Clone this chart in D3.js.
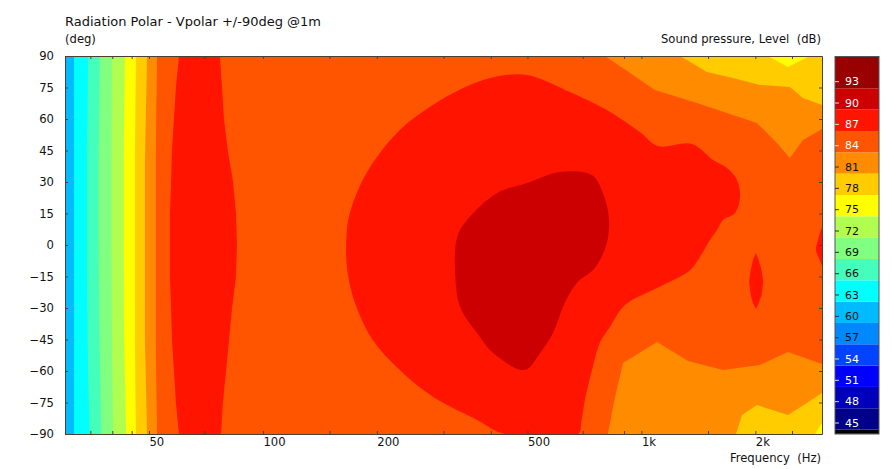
<!DOCTYPE html>
<html><head><meta charset="utf-8">
<script src="https://cdn.jsdelivr.net/npm/d3@7/dist/d3.min.js"></script>
<style>
html,body{margin:0;padding:0;background:#fff}
svg{display:block}
text{font-family:"DejaVu Sans",Verdana,sans-serif;font-size:11.6px;fill:#111;white-space:pre}
</style></head><body>
<script>
// Tick labels and levels
const angleTicks = [-90,-75,-60,-45,-30,-15,0,15,30,45,60,75,90];
const freqLabelTicks = [50,100,200,500,1000,2000];
const freqMinorTicks = [35,40,45,70,150,300,400,700,900,1500,2500];
const colorbarTicks = [45,48,51,54,57,60,63,66,69,72,75,78,81,84,87,90,93];
const colorbarEdges = [43.4,44,47,50,53,56,59,62,65,68,71,74,77,80,83,86,89,92,96.5];
const colorbarColors = ["#000000","#000088","#0000bb","#0000ff","#0044ff","#0088ff","#00bbff","#00ffff","#44ffbb","#80ff80","#b0ff50","#ffff00","#ffcc00","#ff8c00","#ff5500","#ff1400","#cc0000","#990000"];
const lightLabels = [45,48,51,54,84,87,90,93];

// Iso-level contours: [frequency Hz, angle deg]
const contour59 = [[30,90],[3000,90],[3000,-90],[30,-90]];
const contour62 = [[31.7,90],[3000,90],[3000,-90],[31.7,-90]];
const contour65 = [[34.5,90],[34.3,40],[34.3,0],[34.4,-45],[34.8,-90],[3000,-90],[3000,90]];
const contour68 = [[37.1,90],[36.8,40],[36.8,0],[37.0,-45],[37.4,-90],[3000,-90],[3000,90]];
const contour71 = [[39.9,90],[39.8,40],[39.8,0],[39.9,-45],[40.2,-90],[3000,-90],[3000,90]];
const contour74 = [[43.2,90],[42.9,40],[42.9,0],[43.0,-45],[43.5,-90],[3000,-90],[3000,90]];
const contour77 = [[46.2,90],[45.9,40],[45.9,0],[45.9,-45],[46.2,-90],[2875,-90],[3000,-84.8],[3000,90],[2788,90],[2439,84.8],[2159,90]];
const contour80 = [[49.4,90],[48.8,40],[48.8,0],[48.8,-45],[49.4,-90],[1778,-90],[1844,-81],[2019,-76.2],[2439,-81],[2736,-75.2],[3000,-70.5],[3000,66.7],[2672,70],[2468,75.2],[2057,76.2],[1746,79.5],[1490,82.4],[1265,90]];
const contour83 = [[52.5,90],[52.1,40],[52.1,0],[52.1,-45],[52.5,-90],[815,-90],[852,-72.4],[894,-56.2],[1100,-46.2],[1328,-55.2],[1643,-59.5],[2057,-57.1],[2439,-51],[3000,-56.7],[3000,55.2],[2672,50],[2468,41.4],[2281,48.6],[2019,58.1],[1746,61.9],[1403,67.6],[1086,73.8],[933,81.9],[801,90]];
const contour86Low = [[60,90],[58.9,75],[58.2,60],[57.5,45],[57.2,30],[56.8,15],[56.8,0],[56.8,-15],[57.2,-30],[57.5,-45],[58.2,-60],[58.9,-75],[60,-90],[77.5,-90],[78.4,-75],[79.9,-60],[81.4,-45],[82.9,-30],[84.9,-15],[85.4,0],[84.9,15],[83.4,30],[80.8,45],[78.9,60],[78,75],[77,90]];
const contour86Main = [[498,81],[647,72.9],[810,64.3],[991,53.8],[1106,47.1],[1360,48.1],[1546,40.5],[1683,36.7],[1789,31],[1822,22.9],[1767,15.2],[1643,11.9],[1584,7.1],[1518,2.4],[1411,-7.1],[1336,-12.4],[1100,-20.5],[905,-28.6],[826,-39],[778,-46.2],[744,-58.1],[709,-73.8],[695,-83.3],[680,-90],[436,-90],[368,-83.3],[282,-72.4],[230,-59.5],[195,-45.2],[175,-27.6],[167,-11.9],[166,1],[168,11.9],[177,24.8],[195,39],[230,54.8],[276,65.7],[338,74.8],[406,79.9]];
const contour86Lens = [[2007,-3.8],[2040,-7.1],[2078,-11.9],[2097,-17.6],[2078,-23.8],[2040,-27.6],[2007,-30.5],[1971,-27.6],[1944,-23.8],[1925,-17.6],[1944,-11.9],[1971,-7.1]];
const contour86Edge = [[3000,8.1],[2927,2.4],[2892,-2.4],[2944,-6.2],[3000,-9.5]];
const contour89 = [[609,34.8],[740,33.3],[791,24.8],[820,13.3],[810,1],[753,-11],[675,-18.1],[627,-27.6],[584,-41.9],[540,-51.4],[492,-59.5],[406,-51.4],[368,-41.9],[332,-29.5],[322,-13.3],[326,3.8],[346,11.9],[416,24.8],[499,29.5]];

const bandLevels = [59,62,65,68,71,74,77,80,83,86,86,86,86,89];
const bandContours = [contour59,contour62,contour65,contour68,contour71,contour74,contour77,contour80,contour83,contour86Low,contour86Main,contour86Lens,contour86Edge,contour89];
const roundedContours = [contour86Main,contour86Edge,contour89];

const W=892,H=469, L=65,R=822,T=56,B=434;
const x=d3.scaleLog().domain([30,3000]).range([L,R]);
const y=d3.scaleLinear().domain([-90,90]).range([B,T]);
const cb=d3.scaleLinear().domain([45,93]).range([422.5,81.2]);
const color=d3.scaleThreshold().domain(colorbarEdges.slice(1,-1)).range(colorbarColors);

const svg=d3.select("body").append("svg").attr("width",W).attr("height",H);
const clip=svg.append("defs").append("clipPath").attr("id","plot");
clip.append("rect").attr("x",L).attr("y",T).attr("width",R-L).attr("height",B-T);

const line=d3.line().x(d=>x(d[0])).y(d=>y(d[1])).curve(d3.curveLinearClosed);
const round=d3.line().x(d=>x(d[0])).y(d=>y(d[1])).curve(d3.curveCatmullRomClosed.alpha(0.5));
svg.append("g").attr("clip-path","url(#plot)").selectAll("path")
  .data(bandContours.map((c,i)=>({c,level:bandLevels[i]})))
  .join("path").attr("d",d=>(roundedContours.includes(d.c)?round:line)(d.c)).attr("fill",d=>color(d.level+0.5));

// frame + axes
const ink="#4a4030";
const fmt=d=>d>=1000?(d/1000)+"k":d;
const style=g=>{g.selectAll(".domain").attr("stroke",ink);g.selectAll(".tick line").attr("stroke",ink);};
const allFreq=[...freqLabelTicks,...freqMinorTicks];
svg.append("g").attr("transform",`translate(${L},0)`)
  .call(d3.axisLeft(y).tickValues(angleTicks).tickSize(-3).tickSizeOuter(0).tickPadding(11)).call(style)
  .call(g=>g.selectAll("text").style("font-size","11.6px"));
svg.append("g").attr("transform",`translate(${R},0)`)
  .call(d3.axisRight(y).tickValues(angleTicks).tickSize(-3).tickSizeOuter(0).tickFormat("")).call(style);
svg.append("g").attr("transform",`translate(0,${T})`)
  .call(d3.axisTop(x).tickValues(allFreq).tickSize(-3).tickSizeOuter(0).tickFormat("")).call(style);
const bx=svg.append("g").attr("transform",`translate(0,${B})`)
  .call(d3.axisBottom(x).tickValues(allFreq).tickSize(-3).tickSizeOuter(0)
    .tickFormat(d=>freqLabelTicks.includes(d)?fmt(d):"").tickPadding(4)).call(style);
bx.selectAll("text").attr("text-anchor","start").style("font-size","11.6px");

// colour bar
const cbX=835,cbW=44;
const cbg=svg.append("g");
cbg.selectAll("rect").data(colorbarColors).join("rect")
  .attr("x",cbX).attr("width",cbW)
  .attr("y",(d,i)=>Math.max(56.5,cb(colorbarEdges[i+1])))
  .attr("height",(d,i)=>Math.min(434,cb(colorbarEdges[i]))-Math.max(56.5,cb(colorbarEdges[i+1])))
  .attr("fill",d=>d);
cbg.append("rect").attr("x",cbX).attr("y",56.5).attr("width",cbW).attr("height",377.5)
  .attr("fill","none").attr("stroke","#555");
const cbAxis=svg.append("g").attr("transform",`translate(${cbX},0)`)
  .call(d3.axisRight(cb).tickValues(colorbarTicks).tickSize(4).tickSizeOuter(0).tickPadding(6));
cbAxis.select(".domain").remove();
cbAxis.selectAll(".tick line").attr("stroke",d=>lightLabels.includes(d)?"#ddd":"#333");
cbAxis.selectAll("text").style("font-size","11px").style("fill",d=>lightLabels.includes(d)?"#fff":"#111");

// titles
svg.append("text").attr("x",65).attr("y",26).style("font-size","13px").text("Radiation Polar - Vpolar +/-90deg @1m");
svg.append("text").attr("x",65).attr("y",43).text("(deg)");
svg.append("text").attr("x",821).attr("y",43).attr("text-anchor","end").text("Sound pressure, Level  (dB)");
svg.append("text").attr("x",821).attr("y",462).attr("text-anchor","end").text("Frequency  (Hz)");
</script></body></html>
